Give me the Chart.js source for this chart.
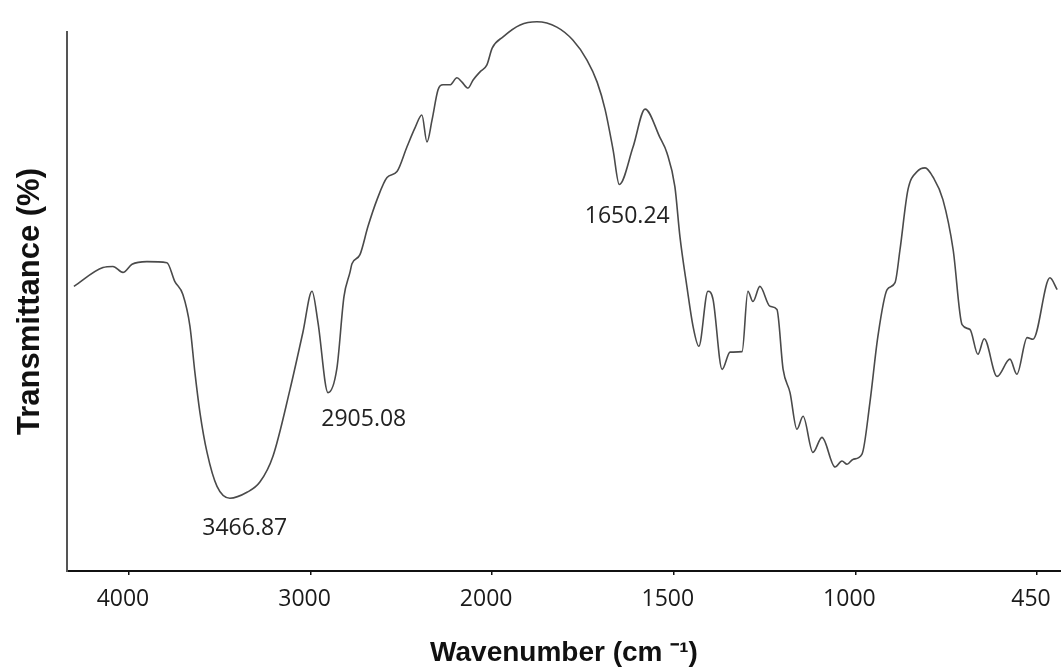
<!DOCTYPE html>
<html lang="en">
<head>
  <meta charset="UTF-8" />
  <title>FTIR spectrum</title>
  <script src="https://cdn.jsdelivr.net/npm/chart.js"></script>
  <style>
    body { margin: 0; background: #fff; }
    canvas { display: block; }
  </style>
</head>
<body>
  <canvas id="chart" width="1061" height="670"></canvas>

  <script>
    // wavenumber axis is broken: 4000-2000 at half scale, 2000-450 at full scale
    const tickLabels = ['4000', '3000', '2000', '1500', '1000', '450'];
    const tickWn = [4000, 3000, 2000, 1500, 1000, 450];

    const wavenumber = [
      4303, 4143, 4088, 4033, 3983, 3901, 3791, 3747, 3703, 3664,
      3637, 3609, 3570, 3515, 3444, 3350, 3279, 3207, 3113, 3042,
      2992, 2959, 2904, 2855, 2816, 2783, 2772, 2728, 2684, 2634,
      2579, 2524, 2469, 2425, 2387, 2359, 2331, 2298, 2271, 2232,
      2194, 2166, 2133, 2105, 2067, 2029, 2000, 1970, 1923, 1877,
      1822, 1778, 1739, 1711, 1689, 1667, 1650, 1612, 1579, 1538,
      1519, 1497, 1483, 1464, 1447, 1431, 1406, 1392, 1367, 1345,
      1312, 1296, 1282, 1263, 1235, 1216, 1199, 1180, 1161, 1144,
      1117, 1092, 1056, 1037, 1023, 1007, 980, 956, 932, 904,
      880, 865, 841, 813, 789, 765, 735, 704, 677, 653,
      629, 610, 571, 532, 511, 480, 462, 411, 389
    ];
    const transmittance = [
      52.8, 56.3, 56.5, 55.4, 56.9, 57.4, 57.2, 53.7, 51.3, 45.4,
      36.9, 29.4, 22.0, 15.7, 13.5, 14.6, 16.5, 21.3, 33.7, 44.3,
      51.9, 46.1, 33.1, 37.6, 50.9, 55.4, 57.0, 58.7, 63.9, 68.9,
      73.0, 74.1, 78.7, 82.2, 84.6, 79.6, 83.7, 89.3, 90.2, 90.2,
      91.5, 90.7, 89.6, 91.1, 92.6, 93.9, 97.0, 99.1, 101.3, 101.9,
      100.9, 98.5, 94.8, 90.7, 85.6, 78.1, 71.7, 78.7, 85.7, 80.4,
      77.6, 71.3, 62.0, 52.8, 45.4, 41.7, 51.9, 50.4, 37.4, 40.6,
      40.7, 51.9, 50.0, 52.8, 49.1, 48.5, 37.4, 33.1, 26.3, 28.7,
      22.0, 24.8, 19.3, 20.4, 19.8, 20.7, 21.7, 31.3, 43.5, 52.2,
      53.5, 59.6, 70.7, 74.1, 74.8, 73.1, 68.9, 59.6, 45.7, 44.8,
      40.2, 43.1, 36.1, 39.3, 36.5, 43.3, 43.0, 54.4, 52.2
    ];

    const peakLabels = ['3466.87', '2905.08', '1650.24'];
    const peakWn = [3466.87, 2905.08, 1650.24];
    const peakT = [13.5, 33.1, 71.7];
    const labelShift = [[19, 30], [36, 27], [8, 32]]; // px offset of text from the peak

    // wavenumber -> position on the broken axis (one unit between labelled ticks)
    function wnToPos(wn) {
      let i = 0;
      while (i < tickWn.length - 2 && wn < tickWn[i + 1]) i++;
      return i + (tickWn[i] - wn) / (tickWn[i] - tickWn[i + 1]);
    }

    const points = wavenumber.map((wn, i) => ({ x: wnToPos(wn), y: transmittance[i] }));

    const peakText = {
      id: 'peakText',
      afterDatasetsDraw(chart) {
        const { ctx, scales } = chart;
        ctx.save();
        ctx.font = '23px "Open Sans"';
        ctx.fillStyle = '#222';
        ctx.textAlign = 'center';
        ctx.textBaseline = 'middle';
        peakLabels.forEach((txt, i) => {
          const x = scales.x.getPixelForValue(wnToPos(peakWn[i])) + labelShift[i][0];
          const y = scales.y.getPixelForValue(peakT[i]) + labelShift[i][1];
          ctx.fillText(txt, x, y);
        });
        ctx.restore();
      }
    };

    const ctx = document.getElementById('chart').getContext('2d');

    new Chart(ctx, {
      type: 'line',
      data: {
        datasets: [{
          data: points,
          borderColor: '#4a4a4a',
          borderWidth: 1.6,
          pointRadius: 0,
          tension: 0.25,
          cubicInterpolationMode: 'monotone',
          fill: false,
          clip: false
        }]
      },
      options: {
        responsive: false,
        animation: false,
        events: [],
        layout: { padding: { top: 32, right: 0, bottom: 0, left: 0 } },
        plugins: { legend: { display: false }, tooltip: { enabled: false } },
        scales: {
          x: {
            type: 'linear',
            min: -0.341,
            max: 5.132,
            afterBuildTicks: s => { s.ticks = tickWn.map((_, i) => ({ value: i })); },
            afterFit: s => { s.height = 99; s.paddingLeft = 0; s.paddingRight = 0; },
            border: { display: true, color: '#111', width: 2 },
            grid: { drawOnChartArea: false, drawTicks: true, tickLength: 4, color: '#111', lineWidth: 1.5 },
            ticks: {
              callback: (v, i) => tickLabels[i],
              font: { family: '"Open Sans"', size: 23 },
              color: '#1a1a1a',
              padding: 11,
              labelOffset: -6,
              maxRotation: 0,
              autoSkip: false
            },
            title: {
              display: true,
              text: 'Wavenumber (cm \u207B\u00B9)',
              font: { family: '"Liberation Sans", Arial', size: 28, weight: 'bold' },
              color: '#111',
              padding: { top: 0, bottom: 0 }
            }
          },
          y: {
            min: 0,
            max: 100,
            afterFit: s => { s.width = 67; },
            border: { display: true, color: '#555', width: 2 },
            grid: { display: false, drawTicks: false },
            ticks: { display: false },
            title: {
              display: true,
              text: 'Transmittance (%)',
              font: { family: '"Liberation Sans", Arial', size: 31, weight: 'bold' },
              color: '#111',
              padding: { top: 12, bottom: 18 }
            }
          }
        }
      },
      plugins: [peakText]
    });
  </script>
</body>
</html>
